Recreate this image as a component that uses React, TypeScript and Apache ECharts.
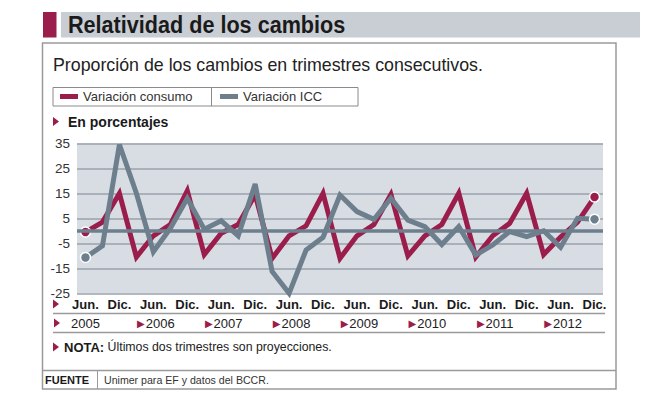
import React, { useEffect, useRef } from "react";
import * as echarts from "echarts";

const categories = [
  "Jun. 2005", "Sep. 2005", "Dic. 2005",
  "Mar. 2006", "Jun. 2006", "Sep. 2006", "Dic. 2006",
  "Mar. 2007", "Jun. 2007", "Sep. 2007", "Dic. 2007",
  "Mar. 2008", "Jun. 2008", "Sep. 2008", "Dic. 2008",
  "Mar. 2009", "Jun. 2009", "Sep. 2009", "Dic. 2009",
  "Mar. 2010", "Jun. 2010", "Sep. 2010", "Dic. 2010",
  "Mar. 2011", "Jun. 2011", "Sep. 2011", "Dic. 2011",
  "Mar. 2012", "Jun. 2012", "Sep. 2012", "Dic. 2012",
];

const consumo = [
  -0.5, 3.5, 15,
  -10.5, -2, 2.5, 16,
  -9.5, -1, 2.5, 14.5,
  -11, -2, 2, 15,
  -11, -2, 2.5, 14.5,
  -10, -2, 2.5, 15,
  -10.5, -2, 3, 15,
  -9.5, -2.5, 3.5, 13.5,
];

const icc = [
  -10.7, -6, 34.5,
  15, -8.4, 1, 13,
  0.6, 4, -2, 18.7,
  -16.3, -25, -7.7, -2.6,
  14.3, 7.7, 4.6, 13,
  4.3, 1.7, -5.5, 1.7,
  -9.7, -5.7, -0.3, -2.3,
  0, -6.6, 5, 4.6,
];

const yMin = -25;
const yMax = 35;
const yStep = 10;

const seriesNames = ["Variación consumo", "Variación ICC"];

const FONT = "'Liberation Sans', Arial, sans-serif";
const CRIMSON = "#9b1d4b";
const SLATE = "#6d7f8d";

function withEndMarkers(values: number[], color: string) {
  return values.map((v, i) =>
    i === 0 || i === values.length - 1
      ? {
          value: v,
          symbol: "circle",
          symbolSize: 10,
          itemStyle: { color, borderColor: "#ffffff", borderWidth: 1.5 },
        }
      : { value: v, symbol: "none" }
  );
}

function tri(x: number, y: number) {
  return {
    type: "polygon",
    shape: { points: [[x, y - 4.5], [x + 6, y], [x, y + 4.5]] },
    style: { fill: CRIMSON },
    silent: true,
  };
}

export default function App() {
  const ref = useRef<HTMLDivElement>(null);

  useEffect(() => {
    if (!ref.current) return;
    const chart = echarts.init(ref.current, undefined, { renderer: "svg" });

    const legendBase = {
      top: 89,
      padding: 0,
      icon: "rect",
      itemWidth: 18,
      itemHeight: 5,
      selectedMode: false,
      textStyle: { fontSize: 13, color: "#333", fontFamily: FONT, lineHeight: 15 },
    };

    const option: any = {
      animation: false,
      grid: {
        left: 77,
        right: 50,
        top: 143.3,
        bottom: 104.7,
        show: true,
        backgroundColor: "#d8dce3",
        borderWidth: 0,
      },
      legend: [
        { ...legendBase, left: 60, data: [seriesNames[0]] },
        { ...legendBase, left: 220, data: [seriesNames[1]] },
      ],
      xAxis: [
        {
          type: "category",
          data: categories,
          boundaryGap: true,
          axisLine: { show: false },
          axisTick: { show: false },
          splitLine: { show: false },
          axisLabel: {
            interval: 1,
            margin: 4,
            fontSize: 13,
            fontWeight: "bold",
            color: "#1a1a1a",
            fontFamily: FONT,
            lineHeight: 14,
            formatter: (v: string) => v.split(" ")[0],
          },
        },
        {
          type: "category",
          data: categories,
          boundaryGap: true,
          position: "bottom",
          offset: 19,
          axisLine: { show: false },
          axisTick: { show: false },
          splitLine: { show: false },
          axisLabel: {
            interval: 0,
            margin: 4,
            formatter: (v: string, idx: number) => {
              const [m, y] = v.split(" ");
              if (m !== "Jun.") return "";
              if (idx === 0) return "{y|" + y + "}";
              return "{p|}{t|▶}{y|" + y + "}";
            },
            rich: {
              y: { fontSize: 13, color: "#222", fontFamily: FONT, lineHeight: 14 },
              t: { fontSize: 10, color: CRIMSON, fontFamily: "'DejaVu Sans'", lineHeight: 14, padding: [0, 1, 0, 0] },
              p: { width: 5, lineHeight: 14 },
            },
          },
        },
      ],
      yAxis: {
        type: "value",
        min: yMin,
        max: yMax,
        interval: yStep,
        axisLine: { show: false },
        axisTick: { show: false },
        axisLabel: { fontSize: 13.5, color: "#333", fontFamily: FONT, margin: 7 },
        splitLine: { lineStyle: { color: "#9aa2ac", width: 1.5 } },
      },
      series: [
        {
          type: "line",
          data: [],
          z: 1,
          silent: true,
          markLine: {
            silent: true,
            symbol: ["none", "none"],
            label: { show: false },
            lineStyle: { color: SLATE, width: 3.5, type: "solid" },
            data: [{ yAxis: 0 }],
          },
        },
        {
          name: seriesNames[0],
          type: "line",
          z: 3,
          clip: false,
          color: CRIMSON,
          showSymbol: true,
          data: withEndMarkers(consumo, CRIMSON),
          lineStyle: { color: CRIMSON, width: 5, join: "miter", miterLimit: 3 },
        },
        {
          name: seriesNames[1],
          type: "line",
          z: 4,
          clip: false,
          color: SLATE,
          showSymbol: true,
          data: withEndMarkers(icc, SLATE),
          lineStyle: { color: SLATE, width: 5, join: "miter", miterLimit: 3 },
        },
      ],
      graphic: [
        { type: "rect", shape: { x: 43, y: 12, width: 13.5, height: 25.5 }, style: { fill: CRIMSON }, silent: true },
        { type: "rect", shape: { x: 61, y: 12, width: 579, height: 25.5 }, style: { fill: "#c9cdd4" }, silent: true },
        {
          type: "text",
          x: 68,
          y: 25,
          scaleX: 0.9,
          style: {
            text: "Relatividad de los cambios",
            fontSize: 24,
            fontWeight: "bold",
            fontFamily: FONT,
            fill: "#1a1a1a",
            verticalAlign: "middle",
          },
          silent: true,
        },
        {
          type: "rect",
          shape: { x: 42.5, y: 43, width: 573.5, height: 346 },
          style: { fill: "none", stroke: "#9a9a9a", lineWidth: 1.5 },
          silent: true,
        },
        {
          type: "text",
          x: 53,
          y: 65,
          style: {
            text: "Proporción de los cambios en trimestres consecutivos.",
            fontSize: 17.8,
            fontFamily: FONT,
            fill: "#222",
            verticalAlign: "middle",
          },
          silent: true,
        },
        {
          type: "rect",
          shape: { x: 53, y: 87.5, width: 305, height: 18.5 },
          style: { fill: "none", stroke: "#8a8a8a", lineWidth: 1 },
          silent: true,
        },
        {
          type: "line",
          shape: { x1: 211.5, y1: 87.5, x2: 211.5, y2: 106 },
          style: { stroke: "#8a8a8a", lineWidth: 1 },
          silent: true,
        },
        tri(53, 121.5),
        {
          type: "text",
          x: 68,
          y: 121.5,
          style: {
            text: "En porcentajes",
            fontSize: 14,
            fontWeight: "bold",
            fontFamily: FONT,
            fill: "#1a1a1a",
            verticalAlign: "middle",
          },
          silent: true,
        },
        tri(53, 304),
        {
          type: "line",
          shape: { x1: 53, y1: 313.5, x2: 605, y2: 313.5 },
          style: { stroke: "#9a9a9a", lineWidth: 1.5 },
          silent: true,
        },
        tri(54, 323),
        {
          type: "line",
          shape: { x1: 53, y1: 332.5, x2: 605, y2: 332.5 },
          style: { stroke: "#9a9a9a", lineWidth: 1.5 },
          silent: true,
        },
        tri(53, 347),
        {
          type: "text",
          x: 64,
          y: 347,
          style: {
            text: "{b|NOTA:} Últimos dos trimestres son proyecciones.",
            fontSize: 12.3,
            fontFamily: FONT,
            fill: "#222",
            verticalAlign: "middle",
            rich: { b: { fontSize: 13, fontWeight: "bold", fontFamily: FONT, fill: "#1a1a1a" } },
          },
          silent: true,
        },
        {
          type: "line",
          shape: { x1: 42.5, y1: 370.5, x2: 616, y2: 370.5 },
          style: { stroke: "#9a9a9a", lineWidth: 1.5 },
          silent: true,
        },
        {
          type: "line",
          shape: { x1: 97.5, y1: 370.5, x2: 97.5, y2: 389 },
          style: { stroke: "#9a9a9a", lineWidth: 1 },
          silent: true,
        },
        {
          type: "text",
          x: 45,
          y: 380,
          style: {
            text: "FUENTE",
            fontSize: 11,
            fontWeight: "bold",
            fontFamily: FONT,
            fill: "#1a1a1a",
            verticalAlign: "middle",
          },
          silent: true,
        },
        {
          type: "text",
          x: 104,
          y: 380,
          style: {
            text: "Unimer para EF y datos del BCCR.",
            fontSize: 10.6,
            fontFamily: FONT,
            fill: "#333",
            verticalAlign: "middle",
          },
          silent: true,
        },
      ],
    };

    chart.setOption(option);
    return () => chart.dispose();
  }, []);

  return (
    <div
      ref={ref}
      style={{ position: "fixed", left: 0, top: 0, width: 653, height: 398, background: "#ffffff" }}
    />
  );
}
